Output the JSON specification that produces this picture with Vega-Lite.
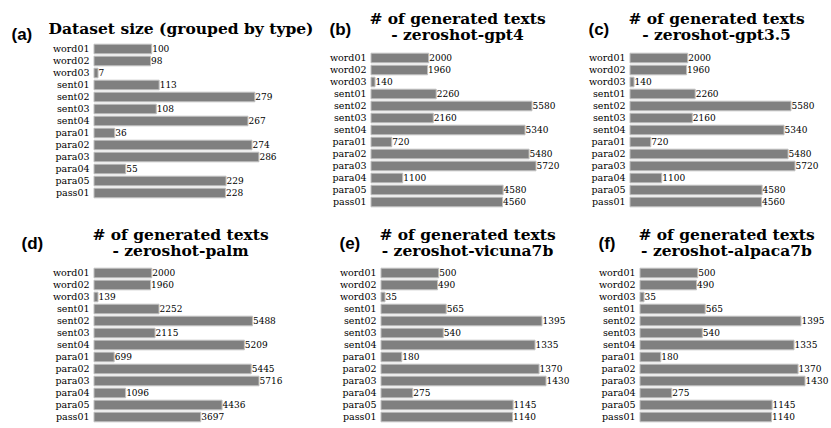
{
  "$schema": "https://vega.github.io/schema/vega-lite/v6.json",
  "background": "white",
  "padding": {"left": 11, "top": 11, "right": 0, "bottom": 0},
  "config": {
    "view": {"stroke": null},
    "font": "DejaVu Serif",
    "axis": {"labelColor": "black", "titleColor": "black", "grid": false}
  },
  "data": {"values": [
    {"panel": "a", "name": "word01", "value": 100},
    {"panel": "a", "name": "word02", "value": 98},
    {"panel": "a", "name": "word03", "value": 7},
    {"panel": "a", "name": "sent01", "value": 113},
    {"panel": "a", "name": "sent02", "value": 279},
    {"panel": "a", "name": "sent03", "value": 108},
    {"panel": "a", "name": "sent04", "value": 267},
    {"panel": "a", "name": "para01", "value": 36},
    {"panel": "a", "name": "para02", "value": 274},
    {"panel": "a", "name": "para03", "value": 286},
    {"panel": "a", "name": "para04", "value": 55},
    {"panel": "a", "name": "para05", "value": 229},
    {"panel": "a", "name": "pass01", "value": 228},
    {"panel": "b", "name": "word01", "value": 2000},
    {"panel": "b", "name": "word02", "value": 1960},
    {"panel": "b", "name": "word03", "value": 140},
    {"panel": "b", "name": "sent01", "value": 2260},
    {"panel": "b", "name": "sent02", "value": 5580},
    {"panel": "b", "name": "sent03", "value": 2160},
    {"panel": "b", "name": "sent04", "value": 5340},
    {"panel": "b", "name": "para01", "value": 720},
    {"panel": "b", "name": "para02", "value": 5480},
    {"panel": "b", "name": "para03", "value": 5720},
    {"panel": "b", "name": "para04", "value": 1100},
    {"panel": "b", "name": "para05", "value": 4580},
    {"panel": "b", "name": "pass01", "value": 4560},
    {"panel": "c", "name": "word01", "value": 2000},
    {"panel": "c", "name": "word02", "value": 1960},
    {"panel": "c", "name": "word03", "value": 140},
    {"panel": "c", "name": "sent01", "value": 2260},
    {"panel": "c", "name": "sent02", "value": 5580},
    {"panel": "c", "name": "sent03", "value": 2160},
    {"panel": "c", "name": "sent04", "value": 5340},
    {"panel": "c", "name": "para01", "value": 720},
    {"panel": "c", "name": "para02", "value": 5480},
    {"panel": "c", "name": "para03", "value": 5720},
    {"panel": "c", "name": "para04", "value": 1100},
    {"panel": "c", "name": "para05", "value": 4580},
    {"panel": "c", "name": "pass01", "value": 4560},
    {"panel": "d", "name": "word01", "value": 2000},
    {"panel": "d", "name": "word02", "value": 1960},
    {"panel": "d", "name": "word03", "value": 139},
    {"panel": "d", "name": "sent01", "value": 2252},
    {"panel": "d", "name": "sent02", "value": 5488},
    {"panel": "d", "name": "sent03", "value": 2115},
    {"panel": "d", "name": "sent04", "value": 5209},
    {"panel": "d", "name": "para01", "value": 699},
    {"panel": "d", "name": "para02", "value": 5445},
    {"panel": "d", "name": "para03", "value": 5716},
    {"panel": "d", "name": "para04", "value": 1096},
    {"panel": "d", "name": "para05", "value": 4436},
    {"panel": "d", "name": "pass01", "value": 3697},
    {"panel": "e", "name": "word01", "value": 500},
    {"panel": "e", "name": "word02", "value": 490},
    {"panel": "e", "name": "word03", "value": 35},
    {"panel": "e", "name": "sent01", "value": 565},
    {"panel": "e", "name": "sent02", "value": 1395},
    {"panel": "e", "name": "sent03", "value": 540},
    {"panel": "e", "name": "sent04", "value": 1335},
    {"panel": "e", "name": "para01", "value": 180},
    {"panel": "e", "name": "para02", "value": 1370},
    {"panel": "e", "name": "para03", "value": 1430},
    {"panel": "e", "name": "para04", "value": 275},
    {"panel": "e", "name": "para05", "value": 1145},
    {"panel": "e", "name": "pass01", "value": 1140},
    {"panel": "f", "name": "word01", "value": 500},
    {"panel": "f", "name": "word02", "value": 490},
    {"panel": "f", "name": "word03", "value": 35},
    {"panel": "f", "name": "sent01", "value": 565},
    {"panel": "f", "name": "sent02", "value": 1395},
    {"panel": "f", "name": "sent03", "value": 540},
    {"panel": "f", "name": "sent04", "value": 1335},
    {"panel": "f", "name": "para01", "value": 180},
    {"panel": "f", "name": "para02", "value": 1370},
    {"panel": "f", "name": "para03", "value": 1430},
    {"panel": "f", "name": "para04", "value": 275},
    {"panel": "f", "name": "para05", "value": 1145},
    {"panel": "f", "name": "pass01", "value": 1140}
  ]},
  "bounds": "full",
  "spacing": 19,
  "vconcat": [
    {
      "bounds": "flush",
      "spacing": 70,
      "hconcat": [
        {
          "width": 207, "height": 156,
          "transform": [{"filter": "datum.panel === 'a'"}],
          "encoding": {
            "y": {"field": "name", "type": "nominal", "sort": null,
              "scale": {"paddingInner": 0.2, "paddingOuter": 0.1},
              "axis": {"title": "(a)", "titleAngle": 0, "titleAlign": "left", "titleBaseline": "alphabetic", "titleX": -83, "titleY": -4, "titleFont": "Liberation Sans", "titleFontWeight": "bold", "titleFontSize": 17, "ticks": false, "domain": false, "labelPadding": 5, "labelFont": "DejaVu Serif", "labelFontSize": 9.5}},
            "x": {"field": "value", "type": "quantitative",
              "scale": {"domain": [0, 359], "nice": false},
              "axis": {"orient": "top", "labels": false, "ticks": false, "domain": false, "title": "Dataset size (grouped by type)", "titleX": 86.5, "titleY": -21.8, "titleAlign": "center", "titleBaseline": "top", "titleFont": "DejaVu Serif", "titleFontSize": 15.5, "titleFontWeight": "bold", "titleLineHeight": 16}}
          },
          "layer": [
            {"mark": {"type": "bar", "fill": "#808080", "stroke": "#c0c0c0", "strokeWidth": 1}},
            {"mark": {"type": "text", "align": "left", "baseline": "middle", "dx": 0.5, "font": "DejaVu Serif", "fontSize": 9, "color": "black"}, "encoding": {"text": {"field": "value", "type": "quantitative", "format": "d"}}}
          ]
        },
        {
          "width": 189, "height": 165,
          "transform": [{"filter": "datum.panel === 'b'"}],
          "encoding": {
            "y": {"field": "name", "type": "nominal", "sort": null,
              "scale": {"paddingInner": 0.2, "paddingOuter": 0.475, "align": 0.895},
              "axis": {"title": "(b)", "titleAngle": 0, "titleAlign": "left", "titleBaseline": "alphabetic", "titleX": -42, "titleY": -8.5, "titleFont": "Liberation Sans", "titleFontWeight": "bold", "titleFontSize": 17, "ticks": false, "domain": false, "labelPadding": 5, "labelFont": "DejaVu Serif", "labelFontSize": 9.5}},
            "x": {"field": "value", "type": "quantitative",
              "scale": {"domain": [0, 6552], "nice": false},
              "axis": {"orient": "top", "labels": false, "ticks": false, "domain": false, "title": ["# of generated texts", "- zeroshot-gpt4"], "titleX": 86, "titleY": -31.3, "titleAlign": "center", "titleBaseline": "top", "titleFont": "DejaVu Serif", "titleFontSize": 15.5, "titleFontWeight": "bold", "titleLineHeight": 16}}
          },
          "layer": [
            {"mark": {"type": "bar", "fill": "#808080", "stroke": "#c0c0c0", "strokeWidth": 1}},
            {"mark": {"type": "text", "align": "left", "baseline": "middle", "dx": 0.5, "font": "DejaVu Serif", "fontSize": 9, "color": "black"}, "encoding": {"text": {"field": "value", "type": "quantitative", "format": "d"}}}
          ]
        },
        {
          "width": 189, "height": 165,
          "transform": [{"filter": "datum.panel === 'c'"}],
          "encoding": {
            "y": {"field": "name", "type": "nominal", "sort": null,
              "scale": {"paddingInner": 0.2, "paddingOuter": 0.475, "align": 0.895},
              "axis": {"title": "(c)", "titleAngle": 0, "titleAlign": "left", "titleBaseline": "alphabetic", "titleX": -42, "titleY": -8.5, "titleFont": "Liberation Sans", "titleFontWeight": "bold", "titleFontSize": 17, "ticks": false, "domain": false, "labelPadding": 5, "labelFont": "DejaVu Serif", "labelFontSize": 9.5}},
            "x": {"field": "value", "type": "quantitative",
              "scale": {"domain": [0, 6552], "nice": false},
              "axis": {"orient": "top", "labels": false, "ticks": false, "domain": false, "title": ["# of generated texts", "- zeroshot-gpt3.5"], "titleX": 86, "titleY": -31.3, "titleAlign": "center", "titleBaseline": "top", "titleFont": "DejaVu Serif", "titleFontSize": 15.5, "titleFontWeight": "bold", "titleLineHeight": 16}}
          },
          "layer": [
            {"mark": {"type": "bar", "fill": "#808080", "stroke": "#c0c0c0", "strokeWidth": 1}},
            {"mark": {"type": "text", "align": "left", "baseline": "middle", "dx": 0.5, "font": "DejaVu Serif", "fontSize": 9, "color": "black"}, "encoding": {"text": {"field": "value", "type": "quantitative", "format": "d"}}}
          ]
        }
      ]
    },
    {
      "bounds": "flush",
      "spacing": 70,
      "hconcat": [
        {
          "width": 217, "height": 156,
          "transform": [{"filter": "datum.panel === 'd'"}],
          "encoding": {
            "y": {"field": "name", "type": "nominal", "sort": null,
              "scale": {"paddingInner": 0.2, "paddingOuter": 0.1},
              "axis": {"title": "(d)", "titleAngle": 0, "titleAlign": "left", "titleBaseline": "alphabetic", "titleX": -73, "titleY": -19, "titleFont": "Liberation Sans", "titleFontWeight": "bold", "titleFontSize": 17, "ticks": false, "domain": false, "labelPadding": 5, "labelFont": "DejaVu Serif", "labelFontSize": 9.5}},
            "x": {"field": "value", "type": "quantitative",
              "scale": {"domain": [0, 7517], "nice": false},
              "axis": {"orient": "top", "labels": false, "ticks": false, "domain": false, "title": ["# of generated texts", "- zeroshot-palm"], "titleX": 86, "titleY": -39.8, "titleAlign": "center", "titleBaseline": "top", "titleFont": "DejaVu Serif", "titleFontSize": 15.5, "titleFontWeight": "bold", "titleLineHeight": 16}}
          },
          "layer": [
            {"mark": {"type": "bar", "fill": "#808080", "stroke": "#c0c0c0", "strokeWidth": 1}},
            {"mark": {"type": "text", "align": "left", "baseline": "middle", "dx": 0.5, "font": "DejaVu Serif", "fontSize": 9, "color": "black"}, "encoding": {"text": {"field": "value", "type": "quantitative", "format": "d"}}}
          ]
        },
        {
          "width": 189, "height": 156,
          "transform": [{"filter": "datum.panel === 'e'"}],
          "encoding": {
            "y": {"field": "name", "type": "nominal", "sort": null,
              "scale": {"paddingInner": 0.2, "paddingOuter": 0.1},
              "axis": {"title": "(e)", "titleAngle": 0, "titleAlign": "left", "titleBaseline": "alphabetic", "titleX": -42, "titleY": -19, "titleFont": "Liberation Sans", "titleFontWeight": "bold", "titleFontSize": 17, "ticks": false, "domain": false, "labelPadding": 5, "labelFont": "DejaVu Serif", "labelFontSize": 9.5}},
            "x": {"field": "value", "type": "quantitative",
              "scale": {"domain": [0, 1638], "nice": false},
              "axis": {"orient": "top", "labels": false, "ticks": false, "domain": false, "title": ["# of generated texts", "- zeroshot-vicuna7b"], "titleX": 86, "titleY": -39.8, "titleAlign": "center", "titleBaseline": "top", "titleFont": "DejaVu Serif", "titleFontSize": 15.5, "titleFontWeight": "bold", "titleLineHeight": 16}}
          },
          "layer": [
            {"mark": {"type": "bar", "fill": "#808080", "stroke": "#c0c0c0", "strokeWidth": 1}},
            {"mark": {"type": "text", "align": "left", "baseline": "middle", "dx": 0.5, "font": "DejaVu Serif", "fontSize": 9, "color": "black"}, "encoding": {"text": {"field": "value", "type": "quantitative", "format": "d"}}}
          ]
        },
        {
          "width": 189, "height": 156,
          "transform": [{"filter": "datum.panel === 'f'"}],
          "encoding": {
            "y": {"field": "name", "type": "nominal", "sort": null,
              "scale": {"paddingInner": 0.2, "paddingOuter": 0.1},
              "axis": {"title": "(f)", "titleAngle": 0, "titleAlign": "left", "titleBaseline": "alphabetic", "titleX": -42, "titleY": -19, "titleFont": "Liberation Sans", "titleFontWeight": "bold", "titleFontSize": 17, "ticks": false, "domain": false, "labelPadding": 5, "labelFont": "DejaVu Serif", "labelFontSize": 9.5}},
            "x": {"field": "value", "type": "quantitative",
              "scale": {"domain": [0, 1638], "nice": false},
              "axis": {"orient": "top", "labels": false, "ticks": false, "domain": false, "title": ["# of generated texts", "- zeroshot-alpaca7b"], "titleX": 86, "titleY": -39.8, "titleAlign": "center", "titleBaseline": "top", "titleFont": "DejaVu Serif", "titleFontSize": 15.5, "titleFontWeight": "bold", "titleLineHeight": 16}}
          },
          "layer": [
            {"mark": {"type": "bar", "fill": "#808080", "stroke": "#c0c0c0", "strokeWidth": 1}},
            {"mark": {"type": "text", "align": "left", "baseline": "middle", "dx": 0.5, "font": "DejaVu Serif", "fontSize": 9, "color": "black"}, "encoding": {"text": {"field": "value", "type": "quantitative", "format": "d"}}}
          ]
        }
      ]
    }
  ]
}
